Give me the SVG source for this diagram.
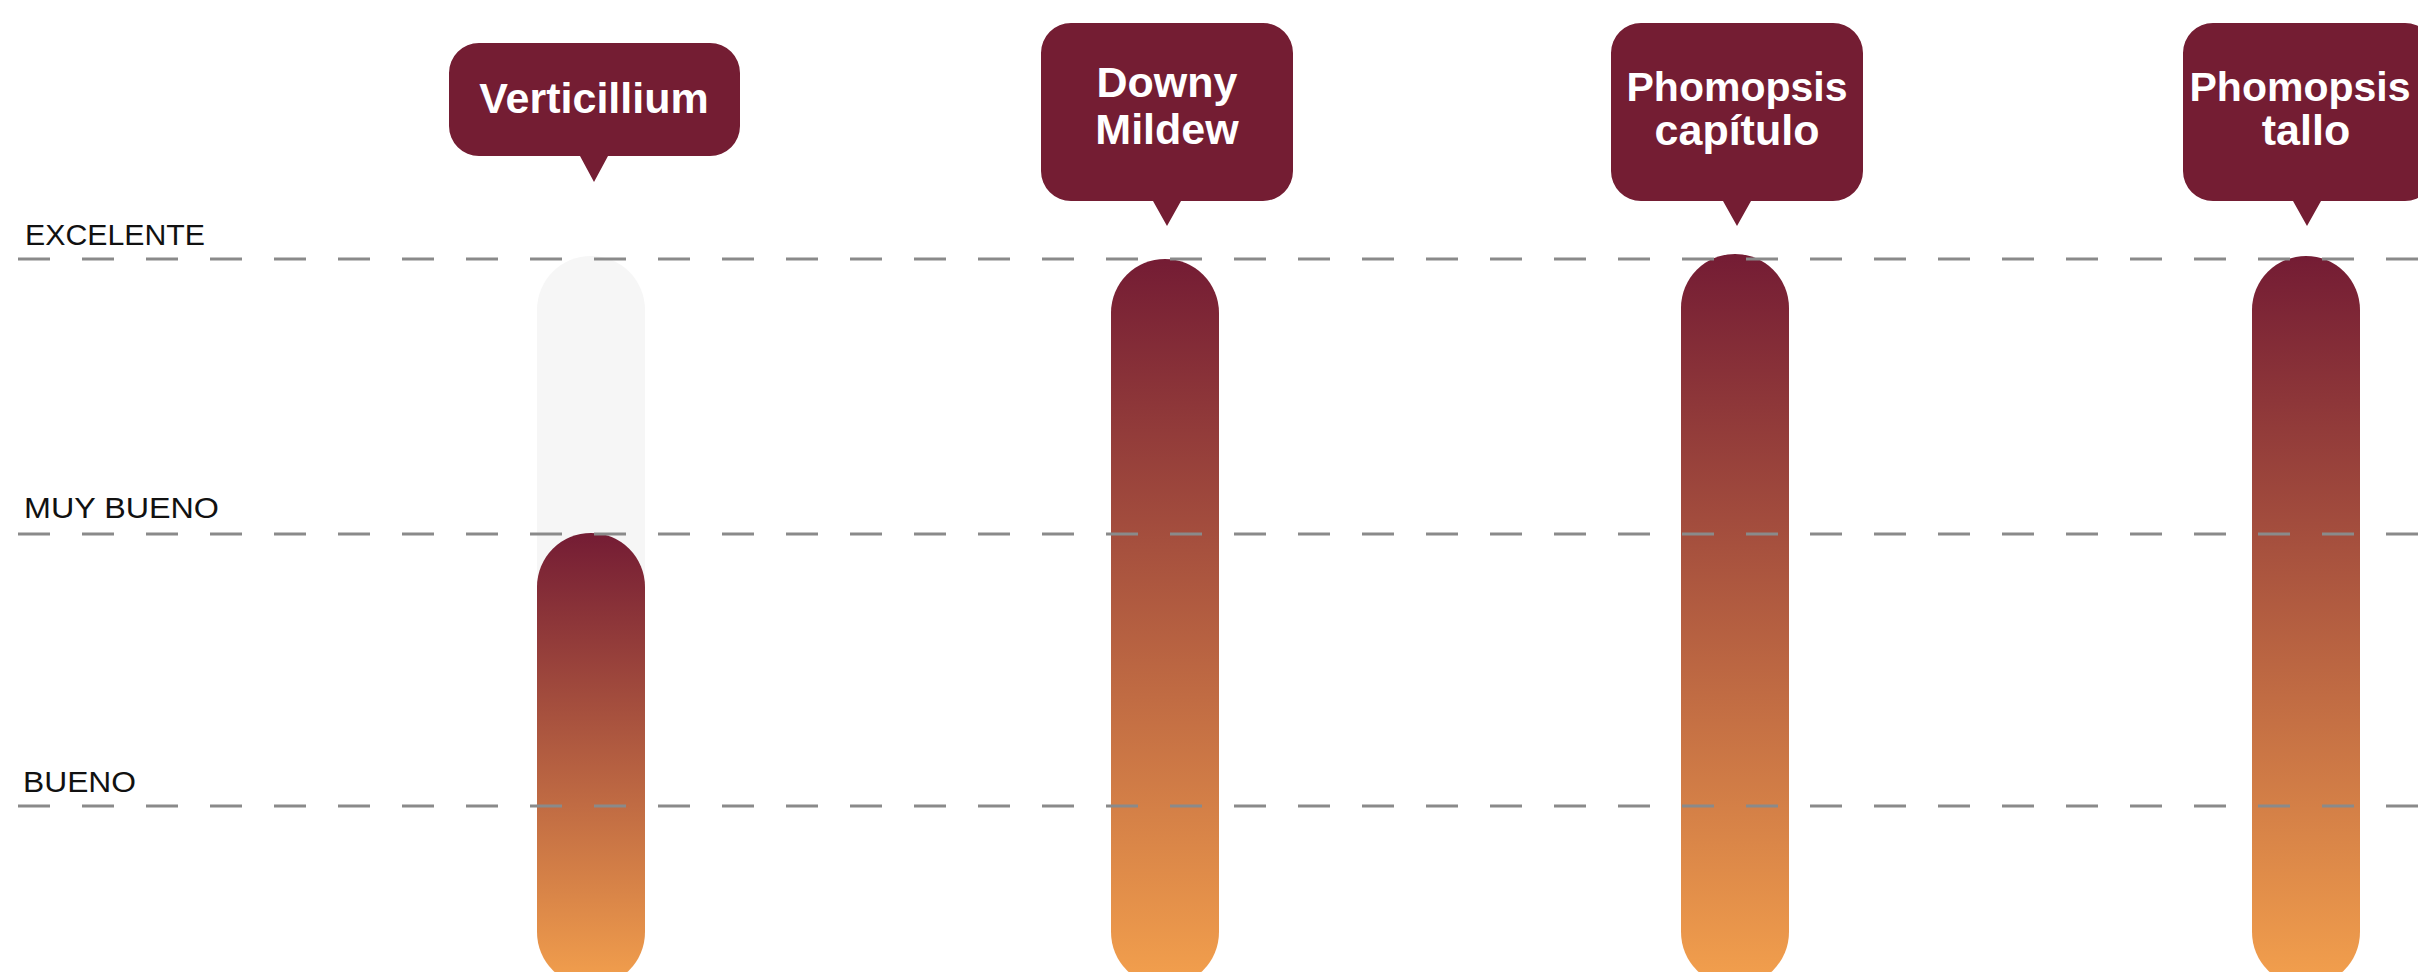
<svg xmlns="http://www.w3.org/2000/svg" width="2418" height="972" viewBox="0 0 2418 972">
  <defs>
    <linearGradient id="barGrad" x1="0" y1="0" x2="0" y2="1">
      <stop offset="0" stop-color="#741c34"/>
      <stop offset="1" stop-color="#f3a04d"/>
    </linearGradient>
    <style>
      .bubble { fill: #741d33; }
      .btext { font-family: "Liberation Sans", Arial, sans-serif; font-weight: bold; font-size: 43px; fill: #ffffff; text-anchor: middle; }
      .narrow { font-size: 41px; }
      .level { font-family: "Liberation Sans", Arial, sans-serif; font-size: 30px; fill: #111111; }
      .grid { stroke: #8a8a8a; stroke-width: 3; stroke-dasharray: 32 32; fill: none; }
      .track { fill: #f6f6f6; }
      .bar { fill: url(#barGrad); }
    </style>
  </defs>
  <rect width="2418" height="972" fill="#ffffff"/>

  <g id="bars">
    <g id="bar-verticillium">
      <rect class="track" x="537" y="256" width="108" height="730" rx="54" ry="54"/>
      <rect class="bar" x="537" y="533" width="108" height="453" rx="54" ry="54"/>
    </g>
    <g id="bar-downy-mildew">
      <rect class="bar" x="1111" y="259" width="108" height="727" rx="54" ry="54"/>
    </g>
    <g id="bar-phomopsis-capitulo">
      <rect class="bar" x="1681" y="254" width="108" height="732" rx="54" ry="54"/>
    </g>
    <g id="bar-phomopsis-tallo">
      <rect class="bar" x="2252" y="256" width="108" height="730" rx="54" ry="54"/>
    </g>
  </g>

  <g id="gridlines">
    <line class="grid" x1="18" y1="259" x2="2418" y2="259"/>
    <line class="grid" x1="18" y1="534" x2="2418" y2="534"/>
    <line class="grid" x1="18" y1="806" x2="2418" y2="806"/>
  </g>

  <g id="levels">
    <text class="level" x="25" y="245" textLength="180" lengthAdjust="spacingAndGlyphs">EXCELENTE</text>
    <text class="level" x="24" y="518" textLength="195" lengthAdjust="spacingAndGlyphs">MUY BUENO</text>
    <text class="level" x="23" y="792" textLength="113" lengthAdjust="spacingAndGlyphs">BUENO</text>
  </g>

  <g id="node-verticillium">
    <path class="bubble" d="M479,43 H710 A30,30 0 0 1 740,73 V126 A30,30 0 0 1 710,156 H608 L594,182 L580,156 H479 A30,30 0 0 1 449,126 V73 A30,30 0 0 1 479,43 Z"/>
    <text class="btext" x="594" y="113">Verticillium</text>
  </g>

  <g id="node-downy-mildew">
    <path class="bubble" d="M1071,23 H1263 A30,30 0 0 1 1293,53 V171 A30,30 0 0 1 1263,201 H1181 L1167,226 L1153,201 H1071 A30,30 0 0 1 1041,171 V53 A30,30 0 0 1 1071,23 Z"/>
    <text class="btext" x="1167" y="97">Downy</text>
    <text class="btext" x="1167" y="144">Mildew</text>
  </g>

  <g id="node-phomopsis-capitulo">
    <path class="bubble" d="M1641,23 H1833 A30,30 0 0 1 1863,53 V171 A30,30 0 0 1 1833,201 H1751 L1737,226 L1723,201 H1641 A30,30 0 0 1 1611,171 V53 A30,30 0 0 1 1641,23 Z"/>
    <text class="btext narrow" x="1737" y="101">Phomopsis</text>
    <text class="btext" x="1737" y="145">capítulo</text>
  </g>

  <g id="node-phomopsis-tallo">
    <path class="bubble" d="M2213,23 H2405 A30,30 0 0 1 2435,53 V171 A30,30 0 0 1 2405,201 H2321 L2307,226 L2293,201 H2213 A30,30 0 0 1 2183,171 V53 A30,30 0 0 1 2213,23 Z"/>
    <text class="btext narrow" x="2300" y="101">Phomopsis</text>
    <text class="btext" x="2306" y="145">tallo</text>
  </g>

  <g id="connectors"/>
</svg>
